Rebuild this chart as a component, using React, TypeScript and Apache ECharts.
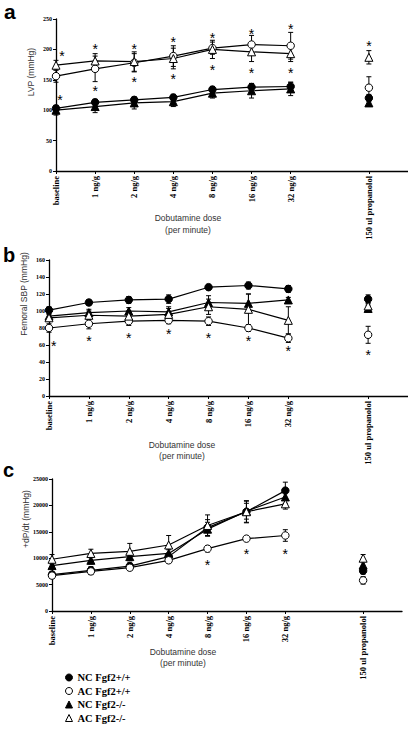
import React, { useEffect, useRef } from "react";
import * as echarts from "echarts";

// ---------- categories & labels ----------
const X_CATEGORIES = ["baseline", "1 ng/g", "2 ng/g", "4 ng/g", "8 ng/g", "16 ng/g", "32 ng/g", "", "150 ul propanolol", ""];
const GROUPS = ["NC Fgf2+/+", "AC Fgf2+/+", "NC Fgf2-/-", "AC Fgf2-/-"];

// ---------- panel a: LVP (mmHg) ----------
const lvpNCwt = [103, 113, 117, 121, 134, 138, 139];
const lvpNCwtErr = [4, 5, 4, 5, 5, 6, 7];
const lvpNCwtProp = [120, 6];
const lvpACwt = [156, 168, 178, 189, 202, 208, 206];
const lvpACwtErr = [10, 21, 15, 17, 10, 15, 22];
const lvpACwtProp = [137, 18];
const lvpNCko = [100, 106, 112, 114, 128, 132, 135];
const lvpNCkoErr = [8, 10, 10, 8, 8, 12, 11];
const lvpNCkoProp = [112, 4];
const lvpACko = [174, 181, 180, 185, 200, 196, 193];
const lvpACkoErr = [8, 12, 16, 17, 15, 16, 13];
const lvpACkoProp = [187, 11];
const lvpStars = [[0.15, 195], [0.1, 122], [1, 206], [1, 136], [2, 206], [2, 151], [3, 217], [3, 156], [4, 223], [4, 172], [5, 231], [5, 167], [6, 239], [6, 167], [8, 210]];

// ---------- panel b: Femoral SBP (mmHg) ----------
const sbpNCwt = [101, 110, 113, 114, 128, 130, 126];
const sbpNCwtErr = [4, 3, 4, 5, 3, 4, 4];
const sbpNCwtProp = [114, 5];
const sbpACwt = [80, 85, 88, 89, 88, 80, 68];
const sbpACwtErr = [5, 6, 5, 4, 5, 4, 5];
const sbpACwtProp = [72, 10];
const sbpNCko = [94, 98, 100, 99, 110, 109, 113];
const sbpNCkoErr = [4, 4, 4, 6, 8, 11, 3];
const sbpNCkoProp = [103, 4];
const sbpACko = [92, 95, 94, 96, 105, 102, 89];
const sbpACkoErr = [4, 5, 6, 7, 9, 18, 16];
const sbpACkoProp = [106, 4];
const sbpStars = [[0.12, 62], [1, 68], [2, 72], [3, 76], [4, 72], [5, 68], [6, 56], [8, 52]];

// ---------- panel c: +dP/dt (mmHg) ----------
const dpNCwt = [6900, 7700, 8500, 10300, 15800, 18800, 22800];
const dpNCwtErr = [500, 700, 600, 700, 1500, 2000, 1600];
const dpNCwtProp = [7600, 600];
const dpACwt = [6700, 7500, 8200, 9600, 11800, 13700, 14300];
const dpACwtErr = [500, 600, 500, 500, 600, 500, 1100];
const dpACwtProp = [5800, 700];
const dpNCko = [8600, 9600, 10300, 10900, 15500, 18900, 21600];
const dpNCkoErr = [600, 700, 800, 700, 1300, 1500, 1200];
const dpNCkoProp = [8700, 700];
const dpACko = [9800, 10900, 11300, 12500, 16200, 18800, 20300];
const dpACkoErr = [900, 800, 1500, 1800, 2000, 2100, 1000];
const dpACkoProp = [10000, 700];
const dpStars = [[4, 9300], [5, 11300], [6, 11300]];

// ---------- axes ----------
const Y_MAX = [250, 160, 25000];
const Y_STEP = [50, 20, 5000];
const Y_NAMES = ["LVP (mmHg)", "Femoral SBP (mmHg)", "+dP/dt (mmHg)"];
const X_TITLE = ["Dobutamine dose", "(per minute)"];
const PANEL_LETTERS = ["a", "b", "c"];

const GRIDS = [
  { left: 56, top: 19, width: 355.5, height: 152 },
  { left: 49, top: 260, width: 367, height: 136 },
  { left: 52, top: 479, width: 350, height: 132 },
];

type Group = { vals: number[]; err: number[]; prop: number[] };
const PANELS: { groups: Group[]; stars: number[][] }[] = [
  {
    groups: [
      { vals: lvpNCwt, err: lvpNCwtErr, prop: lvpNCwtProp },
      { vals: lvpACwt, err: lvpACwtErr, prop: lvpACwtProp },
      { vals: lvpNCko, err: lvpNCkoErr, prop: lvpNCkoProp },
      { vals: lvpACko, err: lvpACkoErr, prop: lvpACkoProp },
    ],
    stars: lvpStars,
  },
  {
    groups: [
      { vals: sbpNCwt, err: sbpNCwtErr, prop: sbpNCwtProp },
      { vals: sbpACwt, err: sbpACwtErr, prop: sbpACwtProp },
      { vals: sbpNCko, err: sbpNCkoErr, prop: sbpNCkoProp },
      { vals: sbpACko, err: sbpACkoErr, prop: sbpACkoProp },
    ],
    stars: sbpStars,
  },
  {
    groups: [
      { vals: dpNCwt, err: dpNCwtErr, prop: dpNCwtProp },
      { vals: dpACwt, err: dpACwtErr, prop: dpACwtProp },
      { vals: dpNCko, err: dpNCkoErr, prop: dpNCkoProp },
      { vals: dpACko, err: dpACkoErr, prop: dpACkoProp },
    ],
    stars: dpStars,
  },
];

const SERIF = "'Liberation Serif', 'DejaVu Serif', serif";
const SANS = "'Liberation Sans', Arial, sans-serif";

const markerStyle = (g: number) => ({
  symbol: g < 2 ? "circle" : "triangle",
  symbolSize: g < 2 ? 7.5 : 8,
  itemStyle: { color: g % 2 === 0 ? "#000" : "#fff", borderColor: "#000", borderWidth: 1 },
});

const errorBarRender = (params: any, api: any) => {
  const x = api.value(0);
  const lo = api.coord([x, api.value(1)]);
  const hi = api.coord([x, api.value(2)]);
  const w = 2.5;
  const st = { stroke: "#000", lineWidth: 1 };
  return {
    type: "group",
    children: [
      { type: "line", shape: { x1: lo[0], y1: lo[1], x2: hi[0], y2: hi[1] }, style: st },
      { type: "line", shape: { x1: lo[0] - w, y1: lo[1], x2: lo[0] + w, y2: lo[1] }, style: st },
      { type: "line", shape: { x1: hi[0] - w, y1: hi[1], x2: hi[0] + w, y2: hi[1] }, style: st },
    ],
  };
};

const starRender = (params: any, api: any) => {
  const p = api.coord([api.value(0), api.value(1)]);
  const fs = 14;
  return {
    type: "text",
    x: p[0],
    y: p[1] + fs * 0.22,
    style: { text: "*", fontSize: fs, fontFamily: SANS, fill: "#000", align: "center", verticalAlign: "middle" },
  };
};

function buildOption() {
  const xAxis: any[] = [];
  const yAxis: any[] = [];
  const series: any[] = [];
  GRIDS.forEach((g, p) => {
    xAxis.push({
      type: "category",
      gridIndex: p,
      data: X_CATEGORIES,
      boundaryGap: false,
      axisLine: { show: true, lineStyle: { color: "#000", width: 1.3 } },
      axisTick: { show: true, length: 3, interval: (i: number) => X_CATEGORIES[i] !== "", lineStyle: { color: "#000", width: 1 } },
      axisLabel: { interval: 0, rotate: 90, margin: 5, fontFamily: SERIF, fontWeight: "bold", fontSize: 8.5, color: "#000" },
      splitLine: { show: false },
    });
    yAxis.push({
      type: "value",
      gridIndex: p,
      min: 0,
      max: Y_MAX[p],
      interval: Y_STEP[p],
      axisLine: { show: true, lineStyle: { color: "#000", width: 1.3 } },
      axisTick: { show: true, length: 3, lineStyle: { color: "#000", width: 1 } },
      axisLabel: { margin: 4, fontFamily: SERIF, fontWeight: "bold", fontSize: 6, color: "#000", formatter: (v: number) => String(v) },
      splitLine: { show: false },
    });
  });
  // hidden numeric x axes for annotations
  GRIDS.forEach((g, p) => {
    xAxis.push({ type: "value", gridIndex: p, min: 0, max: 9, show: false, position: "top" });
  });

  PANELS.forEach((panel, p) => {
    panel.groups.forEach((grp) => {
      const errData = grp.vals.map((v, i) => [i, v - grp.err[i], v + grp.err[i]]);
      errData.push([8, grp.prop[0] - grp.prop[1], grp.prop[0] + grp.prop[1]]);
      series.push({
        type: "custom",
        xAxisIndex: p,
        yAxisIndex: p,
        silent: true,
        z: 1,
        encode: { x: 0, y: [1, 2] },
        data: errData,
        renderItem: errorBarRender,
      });
    });
    panel.groups.forEach((grp, g) => {
      series.push({
        type: "line",
        name: GROUPS[g],
        xAxisIndex: p,
        yAxisIndex: p,
        data: [...grp.vals, "-", grp.prop[0]],
        connectNulls: false,
        lineStyle: { color: "#000", width: 1.2 },
        z: 3 + (g % 2),
        ...markerStyle(g),
      });
    });
    series.push({
      type: "custom",
      xAxisIndex: p + 3,
      yAxisIndex: p,
      silent: true,
      z: 6,
      encode: { x: 0, y: 1 },
      data: panel.stars,
      renderItem: starRender,
    });
  });

  const titleStyle = { fontFamily: SANS, fontSize: 8.5, fill: "#333", align: "center", verticalAlign: "middle" };
  const yNameStyle = { fontFamily: SANS, fontSize: 8.5, fill: "#333", align: "center", verticalAlign: "middle" };
  const letterStyle = { fontFamily: SANS, fontWeight: "bold", fill: "#000", align: "left", verticalAlign: "middle" };

  const letterPos = [[4, 11, 21], [3, 255, 20], [3, 470, 20]];
  const titlePos = [[188, 218, 230], [182, 445, 456], [183, 652, 663]];
  const yNamePos = [[31, 72], [24, 294], [26, 519]];

  const graphic: any[] = [];
  [0, 1, 2].forEach((p) => {
    graphic.push({ type: "text", x: letterPos[p][0], y: letterPos[p][1], style: { ...letterStyle, text: PANEL_LETTERS[p], fontSize: letterPos[p][2] } });
    graphic.push({ type: "text", x: titlePos[p][0], y: titlePos[p][1], style: { ...titleStyle, text: X_TITLE[0] } });
    graphic.push({ type: "text", x: titlePos[p][0], y: titlePos[p][2], style: { ...titleStyle, text: X_TITLE[1] } });
    graphic.push({ type: "text", x: yNamePos[p][0], y: yNamePos[p][1], rotation: Math.PI / 2, style: { ...yNameStyle, text: Y_NAMES[p] } });
  });

  return {
    animation: false,
    backgroundColor: "#fff",
    grid: GRIDS.map((g) => ({ ...g, containLabel: false })),
    xAxis,
    yAxis,
    series,
    graphic,
    legend: {
      orient: "vertical",
      left: 65,
      top: 672,
      padding: 0,
      itemWidth: 7,
      itemHeight: 7,
      itemGap: 2.5,
      selectedMode: false,
      textStyle: { fontFamily: SERIF, fontWeight: "bold", fontSize: 10.5, color: "#000" },
      data: GROUPS.map((n, g) => ({
        name: n,
        icon: g < 2 ? "circle" : "triangle",
        itemStyle: { color: g % 2 === 0 ? "#000" : "#fff", borderColor: "#000", borderWidth: 1 },
      })),
    },
  };
}

export default function App() {
  const ref = useRef<HTMLDivElement>(null);
  useEffect(() => {
    if (!ref.current) return;
    const chart = echarts.init(ref.current, undefined, { renderer: "svg" });
    chart.setOption(buildOption() as any);
    return () => chart.dispose();
  }, []);
  return <div ref={ref} style={{ position: "absolute", left: 0, top: 0, width: 408, height: 732 }} />;
}
